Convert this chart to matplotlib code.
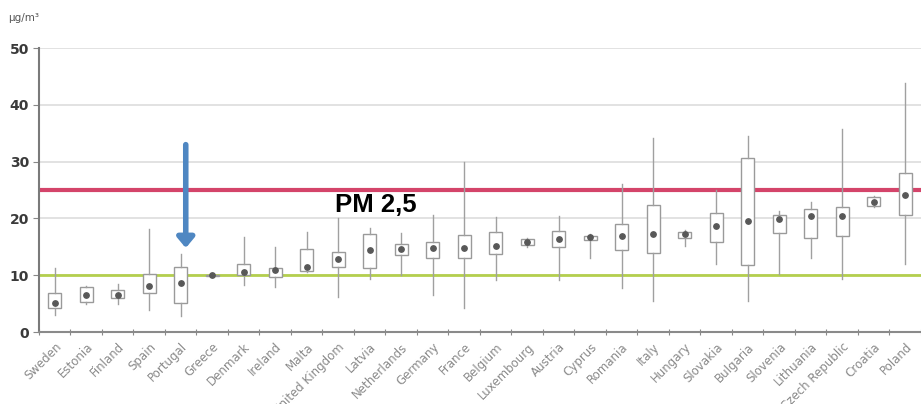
import matplotlib
matplotlib.use("Agg")
import matplotlib.pyplot as plt

countries = ["Sweden", "Estonia", "Finland", "Spain", "Portugal", "Greece", "Denmark",
             "Ireland", "Malta", "United Kingdom", "Latvia", "Netherlands", "Germany",
             "France", "Belgium", "Luxembourg", "Austria", "Cyprus", "Romania", "Italy",
             "Hungary", "Slovakia", "Bulgaria", "Slovenia", "Lithuania", "Czech Republic",
             "Croatia", "Poland"]

whisker_low = [3.0, 5.0, 5.0, 3.9, 2.9, 9.8, 8.3, 8.0, 10.5, 6.2, 9.3, 10.0, 6.5,
               4.2, 9.2, 15.0, 9.2, 13.0, 7.7, 5.5, 15.1, 12.0, 5.5, 10.3, 13.0, 9.4,
               22.0, 12.0]
box_low = [4.2, 5.3, 6.0, 6.9, 5.2, 9.9, 10.0, 9.7, 10.8, 11.4, 11.2, 13.6, 13.1,
           13.0, 13.7, 15.3, 14.9, 16.3, 14.4, 14.0, 16.5, 15.9, 11.8, 17.4, 16.6, 16.9,
           22.2, 20.6]
median = [5.2, 6.5, 6.6, 8.2, 8.6, 10.0, 10.6, 11.0, 11.5, 12.8, 14.4, 14.6, 14.8,
          14.8, 15.2, 15.8, 16.4, 16.7, 16.9, 17.3, 17.3, 18.7, 19.5, 19.9, 20.4, 20.4,
          22.9, 24.1]
box_high = [6.8, 7.9, 7.4, 10.2, 11.4, 10.1, 12.0, 11.2, 14.6, 14.1, 17.2, 15.5, 15.9,
            17.1, 17.7, 16.4, 17.8, 17.0, 19.0, 22.4, 17.7, 20.9, 30.7, 20.6, 21.6, 22.1,
            23.8, 28.0]
whisker_high = [11.2, 8.2, 8.4, 18.1, 13.7, 10.2, 16.8, 14.9, 17.7, 20.0, 18.3, 17.5,
                20.6, 30.0, 20.2, 16.5, 20.4, 17.2, 26.1, 34.1, 17.9, 25.0, 34.5, 21.4,
                22.9, 35.7, 24.0, 43.8]

limit_eu = 25
limit_who = 10
yticks = [0, 10, 20, 30, 40, 50]

fig = plt.figure(figsize=(9.21, 4.04), dpi=100)
ax = fig.add_axes([0.0423, 0.178, 0.9577, 0.703])

stats = []
for name, wl, bl, md, bh, wh in zip(countries, whisker_low, box_low, median,
                                     box_high, whisker_high):
    stats.append(dict(label=name, whislo=wl, q1=bl, med=md, q3=bh, whishi=wh))

positions = list(range(len(countries)))
ax.bxp(stats, positions=positions, widths=0.42, showcaps=False, showfliers=False,
       patch_artist=True,
       boxprops=dict(facecolor="white", edgecolor="#9a9a9a", linewidth=1.0),
       whiskerprops=dict(color="#a0a0a0", linewidth=1.0),
       medianprops=dict(linewidth=0), zorder=3)
ax.scatter(positions, median, s=15, color="#585858", zorder=5)

# reference limits
ax.axhline(limit_eu, color="#d0305a", linewidth=3, zorder=2, alpha=0.9)
ax.axhline(limit_who, color="#b4cf4e", linewidth=2, zorder=2)

ax.set_ylim(0, 50)
ax.set_xlim(-0.5, 27.06)
ax.set_yticks(yticks)
ax.set_yticklabels([str(v) for v in yticks], fontsize=10, color="#3a3a3a",
                   fontweight="bold")
ax.yaxis.grid(True, color="#dddddd", linewidth=1.2)
ax.set_axisbelow(True)

ax.set_xticks([p - 0.5 for p in positions] + [len(countries) - 0.5])
ax.set_xticklabels([])
ax.set_xticks(positions, minor=True)
ax.set_xticklabels(countries, minor=True, rotation=45, ha="right",
                   rotation_mode="anchor", fontsize=8.5, color="#8a8a8a")
ax.tick_params(axis="x", which="major", length=4, direction="inout", color="#888888")
ax.tick_params(axis="x", which="minor", length=0, pad=6)
ax.tick_params(axis="y", length=4, color="#888888", pad=3)

for side in ("top", "right"):
    ax.spines[side].set_visible(False)
ax.spines["left"].set_color("#7a7a7a")
ax.spines["left"].set_linewidth(1.5)
ax.spines["bottom"].set_color("#8a8a8a")
ax.spines["bottom"].set_linewidth(1.5)

ax.text(0.009, 0.955, "µg/m³", transform=fig.transFigure, fontsize=7.5,
        color="#555555", va="center", ha="left")

ax.text(8.9, 22.4, "PM 2,5", fontsize=18.5, fontweight="bold", color="black",
        family="Liberation Sans", va="center", ha="left", zorder=6)

ax.annotate("", xy=(4.16, 14.8), xytext=(4.16, 33.0),
            arrowprops=dict(arrowstyle="-|>,head_length=0.6,head_width=0.5",
                            color="#4f87c2", linewidth=4, shrinkA=0, shrinkB=0),
            zorder=7)

fig.savefig("out.png", dpi=100)
